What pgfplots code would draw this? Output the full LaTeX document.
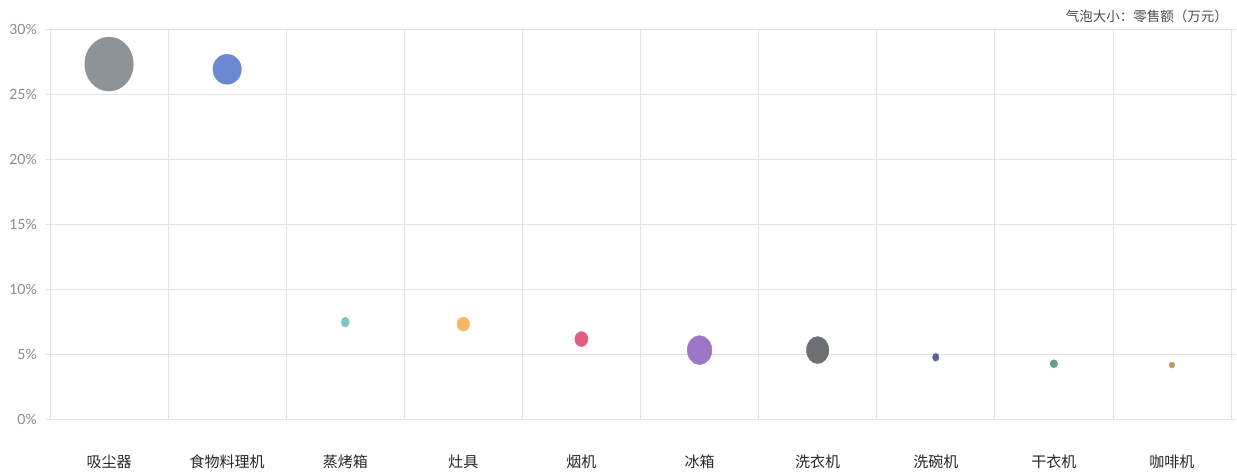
\documentclass[border=0pt]{standalone}
\usepackage{pgfplots}
\pgfplotsset{compat=1.18}
\usepackage{fontspec}
\setmainfont{Noto Sans CJK SC}
\newfontfamily\numfont{Lato}
\definecolor{gridc}{HTML}{E3E3E3}
\definecolor{tickc}{HTML}{8A8A8A}
\definecolor{c1}{HTML}{8D9397}
\definecolor{c2}{HTML}{6B88D2}
\definecolor{c3}{HTML}{7DC6C4}
\definecolor{c4}{HTML}{F6B765}
\definecolor{c5}{HTML}{E05E7E}
\definecolor{c6}{HTML}{9C77C8}
\definecolor{c7}{HTML}{6C6F73}
\definecolor{c8}{HTML}{5A6596}
\definecolor{c9}{HTML}{6A9B97}
\definecolor{c10}{HTML}{C89762}
\begin{document}
\begin{tikzpicture}
\useasboundingbox (0,0) rectangle (1237pt,473pt);
\begin{axis}[
  at={(50pt,54pt)}, anchor=south west,
  scale only axis, width=1181pt, height=390pt,
  xmin=0, xmax=10, ymin=0, ymax=30,
  xtick={0.5,1.5,...,9.5},
  xticklabels={吸尘器,食物料理机,蒸烤箱,灶具,烟机,冰箱,洗衣机,洗碗机,干衣机,咖啡机},
  minor xtick={0,1,...,10},
  xminorgrids=true, xmajorgrids=false,
  ytick={0,5,...,30},
  yticklabel={\pgfmathprintnumber{\tick}\%},
  ymajorgrids=true,
  grid style={gridc, line width=0.8pt},
  minor grid style={gridc, line width=0.8pt},
  axis line style={gridc, line width=0.8pt},
  x tick style={draw=none},
  minor x tick style={draw=none},
  y tick style={gridc, line width=0.8pt},
  tick align=outside, major tick length=5pt,
  xticklabel style={anchor=base, yshift=-44pt, font=\fontsize{15}{17}\selectfont, text=black!85, inner sep=0pt},
  yticklabel style={anchor=east, inner sep=0pt, xshift=-8pt, font=\numfont\fontsize{14}{16}\selectfont, text=tickc},
  /pgf/number format/assume math mode=true,
  clip=false,
  every axis plot/.append style={only marks, mark=*},
]
\addplot[color=c1, mark size=27pt, mark options={xscale=0.9}] coordinates {(0.5,27.3)};
\addplot[color=c2, mark size=15pt, mark options={xscale=0.95}] coordinates {(1.5,26.9)};
\addplot[color=c3, mark size=5pt, mark options={xscale=0.8}] coordinates {(2.5,7.45)};
\addplot[color=c4, mark size=7pt, mark options={xscale=0.9}] coordinates {(3.5,7.3)};
\addplot[color=c5, mark size=7.5pt, mark options={xscale=0.88}] coordinates {(4.5,6.15)};
\addplot[color=c6, mark size=14.5pt, mark options={xscale=0.85}] coordinates {(5.5,5.3)};
\addplot[color=c7, mark size=13.5pt, mark options={xscale=0.83}] coordinates {(6.5,5.3)};
\addplot[color=c8, mark size=4pt, mark options={xscale=0.8}] coordinates {(7.5,4.75)};
\addplot[color=c9, mark size=4pt, mark options={xscale=0.95}] coordinates {(8.5,4.25)};
\addplot[color=c10, mark size=3pt, mark options={xscale=0.95}] coordinates {(9.5,4.15)};
\node[anchor=east, inner sep=0pt, font=\fontsize{13.5}{15}\selectfont, text=black!70] at ([shift={(-3pt,13pt)}]rel axis cs:1,1) {气泡大小：零售额（万元）};
\end{axis}
\end{tikzpicture}
\end{document}
